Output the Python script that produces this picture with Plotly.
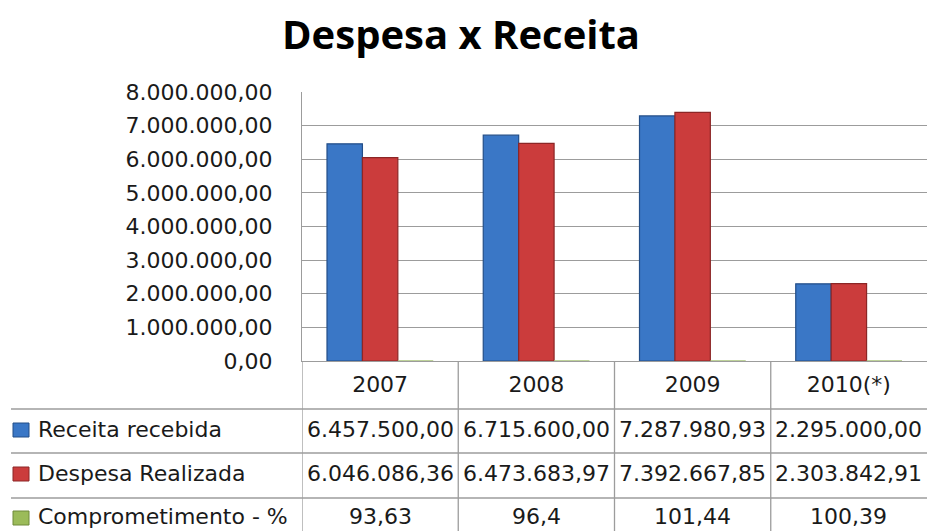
import plotly.graph_objects as go

W, H = 927, 531

categories = ["2007", "2008", "2009", "2010(*)"]
receita = [6457500.00, 6715600.00, 7287980.93, 2295000.00]
despesa = [6046086.36, 6473683.97, 7392667.85, 2303842.91]
comprometimento = [93.63, 96.4, 101.44, 100.39]
series_names = ["Receita recebida", "Despesa Realizada", "Comprometimento - %"]
y_ticks = [0, 1e6, 2e6, 3e6, 4e6, 5e6, 6e6, 7e6, 8e6]

FONT = "DejaVu Sans"
TXT = "#1a1a1a"
GRID = "#9c9c9c"


def py(ypx):
    return (H - ypx) / H


def px(xpx):
    return xpx / W


def money(v):
    s = f"{v:,.2f}"
    return s.replace(",", "_").replace(".", ",").replace("_", ".")


def pct(v):
    return str(v).replace(".", ",")


fig = go.Figure()
fig.add_trace(go.Bar(x=categories, y=receita, name=series_names[0],
                     marker=dict(color="#3A77C6", line=dict(color="#234E88", width=1.2))))
fig.add_trace(go.Bar(x=categories, y=despesa, name=series_names[1],
                     marker=dict(color="#CB3C3C", line=dict(color="#8C2626", width=1.2))))
fig.add_trace(go.Bar(x=categories, y=comprometimento, name=series_names[2],
                     marker=dict(color="#9BBB59", line=dict(color="#A9C47A", width=1.5))))

shapes = []
# horizontal table lines
for ypx in [409, 453, 498]:
    shapes.append(dict(type="line", xref="paper", yref="paper", x0=px(11), x1=1,
                       y0=py(ypx), y1=py(ypx), line=dict(color=GRID, width=1.3)))
# vertical table lines at category boundaries
for b in [-0.5, 0.5, 1.5, 2.5]:
    shapes.append(dict(type="line", xref="x", yref="paper", x0=b, x1=b,
                       y0=py(361), y1=0, line=dict(color=GRID, width=1.3)))

# legend keys in the table
key_cols = ["#3A77C6", "#CB3C3C", "#9BBB59"]
key_lines = ["#234E88", "#8C2626", "#6F8A3A"]
key_centers = [430, 474, 518]
for c, lc, yc in zip(key_cols, key_lines, key_centers):
    shapes.append(dict(type="rect", xref="paper", yref="paper", x0=px(13), x1=px(29),
                       y0=py(yc + 7), y1=py(yc - 7), fillcolor=c, line=dict(color=lc, width=1)))

annotations = []
rows = [[money(v) for v in receita], [money(v) for v in despesa], [pct(v) for v in comprometimento]]
# (y position in px, anchor) per table row
row_pos = [(429, "middle"), (473, "middle"), (H, "bottom")]
for name, vals, (yc, anc) in zip(series_names, rows, row_pos):
    annotations.append(dict(text=name, xref="paper", yref="paper", x=px(36), y=py(yc),
                            xanchor="left", yanchor=anc, showarrow=False,
                            font=dict(family=FONT, size=22, color=TXT)))
    for i, v in enumerate(vals):
        annotations.append(dict(text=v, xref="x", yref="paper", x=i, y=py(yc),
                                xanchor="center", yanchor=anc, showarrow=False,
                                font=dict(family=FONT, size=22, color=TXT)))

fig.update_layout(
    width=W, height=H,
    margin=dict(l=0, r=0, t=0, b=0, autoexpand=False),
    paper_bgcolor="white", plot_bgcolor="white",
    separators=",.",
    showlegend=False,
    barmode="group", bargap=0.32, bargroupgap=0,
    title=dict(text="<b>Despesa x Receita</b>", x=px(461), xanchor="center",
               y=py(35), yanchor="middle", yref="container", automargin=False,
               font=dict(family="Open Sans", size=40, color="#000000")),
    xaxis=dict(domain=[px(302), 1], range=[-0.5, 3.5], type="category",
               showline=True, linecolor=GRID, linewidth=1.3, showgrid=False,
               ticks="", ticklabelstandoff=3, automargin=False,
               tickfont=dict(family=FONT, size=22, color=TXT)),
    yaxis=dict(domain=[py(361), py(92)], range=[0, 8e6], tickvals=y_ticks,
               tickformat=",.2f", showline=True, linecolor=GRID, linewidth=1.3,
               showgrid=True, gridcolor=GRID, gridwidth=1.3, zeroline=False,
               ticks="", ticklabelstandoff=24, automargin=False,
               tickfont=dict(family=FONT, size=22, color=TXT)),
    shapes=shapes,
    annotations=annotations,
)

fig.write_html("out.html")
